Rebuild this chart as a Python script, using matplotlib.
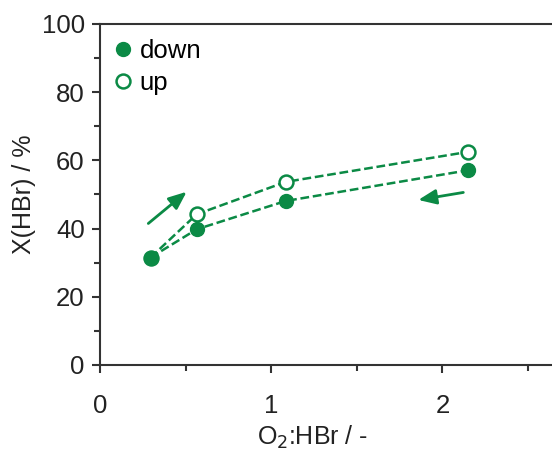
import matplotlib
matplotlib.use("Agg")
import matplotlib.pyplot as plt
from matplotlib.ticker import MultipleLocator

plt.rcParams["font.family"] = ["Liberation Sans", "DejaVu Sans"]

GREEN = "#0b8a45"
INK = "#222222"

# values
ratio_down = [0.295, 0.565, 1.085, 2.15]
conv_down = [31.5, 39.8, 48.1, 57.1]
ratio_up = [0.295, 0.565, 1.085, 2.15]
conv_up = [31.5, 44.2, 53.7, 62.5]

fig = plt.figure(figsize=(5.52, 4.5), dpi=100)
ax = fig.add_axes([0.1812, 0.1889, 0.8188, 0.7578])

ax.plot(ratio_down, conv_down, "--", color=GREEN, lw=1.8, dashes=(3.5, 1.5))
ax.plot(ratio_up, conv_up, "--", color=GREEN, lw=1.8, dashes=(3.5, 1.5))
ax.plot(ratio_up, conv_up, "o", ls="none", ms=10, mfc="white", mec=GREEN,
        mew=1.8, label="up", zorder=3)
ax.plot(ratio_down, conv_down, "o", ls="none", ms=10, color=GREEN,
        label="down", zorder=4)

# direction arrows
ax.annotate("", xy=(0.506, 50.8), xytext=(0.282, 41.5),
            arrowprops=dict(arrowstyle="-|>,head_length=0.6,head_width=0.25",
                            color=GREEN, lw=2, mutation_scale=18,
                            shrinkA=0, shrinkB=0))
ax.annotate("", xy=(1.859, 48.4), xytext=(2.122, 50.6),
            arrowprops=dict(arrowstyle="-|>,head_length=0.6,head_width=0.25",
                            color=GREEN, lw=2, mutation_scale=18,
                            shrinkA=0, shrinkB=0))

ax.set_xlim(0, 2.64)
ax.set_ylim(0, 100)
ax.xaxis.set_major_locator(MultipleLocator(1))
ax.xaxis.set_minor_locator(MultipleLocator(0.5))
ax.yaxis.set_major_locator(MultipleLocator(20))
ax.yaxis.set_minor_locator(MultipleLocator(10))

for side in ["left", "bottom", "top"]:
    ax.spines[side].set_linewidth(1.5)
    ax.spines[side].set_color("#333333")
ax.spines["right"].set_visible(False)

ax.tick_params(which="major", direction="out", length=6, width=1.5,
               colors="#333333", labelcolor=INK, labelsize=18.5)
ax.tick_params(axis="y", which="major", pad=5)
ax.tick_params(axis="x", which="major", pad=15)
ax.tick_params(which="minor", direction="out", length=4, width=1.5,
               colors="#333333")
ax.tick_params(top=False, which="both")

ax.set_xlabel("O$_2$:HBr / -", fontsize=18, color=INK)
ax.xaxis.set_label_coords(0.47, -0.172)
ax.set_ylabel("X(HBr) / %", fontsize=18, color=INK, labelpad=4)

handles, labels = ax.get_legend_handles_labels()
ax.legend(handles[::-1], labels[::-1], loc="upper left", frameon=False,
          fontsize=18.5, handlelength=0.6, handletextpad=0.35,
          labelspacing=0.28, borderaxespad=0.2)

fig.savefig("out.png", dpi=100)
